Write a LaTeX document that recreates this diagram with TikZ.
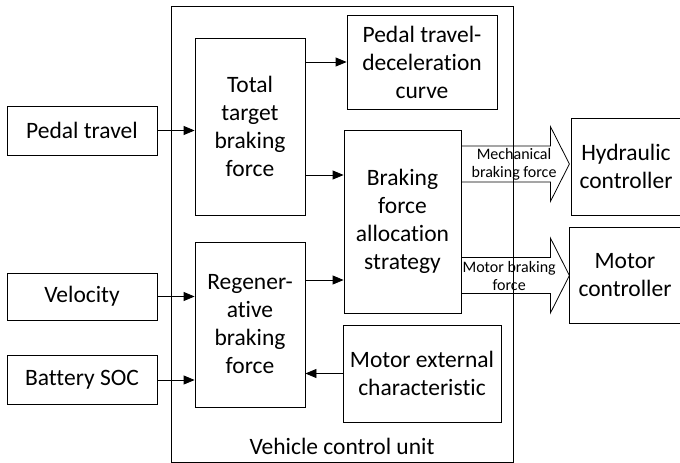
\documentclass[tikz,border=0pt]{standalone}
\usepackage{fontspec}
\setmainfont{Carlito}[Ligatures=NoCommon]
\usetikzlibrary{arrows.meta,positioning}

\tikzset{
  bloc/.style = {draw, line width=0.8pt, inner sep=0pt, align=center,
                 font=\fontsize{23.5}{28}\selectfont},
  fleche/.style = {-{Triangle[length=11pt,width=9pt]}, line width=0.8pt},
  grosse/.style = {line width=0.8pt, line join=miter},
  petit/.style = {align=center, inner sep=0pt, font=\fontsize{16}{18}\selectfont}
}

\begin{document}
\begin{tikzpicture}[x=1pt,y=-1pt]
\useasboundingbox (0,0) rectangle (680,463);
% les entrees
\node[bloc, minimum width=150, minimum height=49] (pedal)    at (82,130.5) {Pedal travel};
\node[bloc, minimum width=150, minimum height=47] (velocity) at (82,296.5) {Velocity};
\node[bloc, minimum width=150, minimum height=49] (battery)  at (82,380)   {Battery SOC};
% les blocs du VCU
\node[bloc, minimum width=110, minimum height=177] (total)    at (250,126.5) {Total\\target\\braking\\force};
\node[bloc, minimum width=110, minimum height=165] (regen)    at (250,324.5) {Regener-\\ative\\braking\\force};
\node[bloc, minimum width=150, minimum height=94]  (curve)    at (422,62)    {Pedal travel-\\deceleration\\curve};
\node[bloc, minimum width=117, minimum height=183] (alloc)    at (402.5,221.5) {Braking\\force\\allocation\\strategy};
\node[bloc, minimum width=158, minimum height=97]  (motorext) at (422,373.5) {Motor external\\characteristic};
% les sorties
\node[bloc, minimum width=110, minimum height=97] (hydr)   at (626,166.5) {Hydraulic\\controller};
\node[bloc, minimum width=112, minimum height=96] (motorc) at (625,275)   {Motor\\controller};
% les fleches
\draw[fleche] (pedal.east) -- (pedal.east -| total.west);
\draw[fleche] (velocity.east) -- (velocity.east -| regen.west);
\draw[fleche] (battery.east) -- (battery.east -| regen.west);
\draw[fleche] (curve.west -| total.east) -- (curve.west);
\draw[fleche] ([yshift=-48.5pt]total.east) -- ([yshift=-48.5pt]total.east -| alloc.west);
\draw[fleche] ([yshift=44.5pt]regen.east) -- ([yshift=44.5pt]regen.east -| alloc.west);
\draw[fleche] (motorext.west) -- (motorext.west -| regen.east);
% les grosses fleches
\coordinate (meca) at ([yshift=57.5pt]alloc.east);
\coordinate (mot)  at ([yshift=-54pt]alloc.east);
\draw[grosse] (meca) ++(0,-18) -- ++(89,0) -- ++(0,-19.5) -- ++(19,37.5)
  -- ++(-19,37.5) -- ++(0,-19.5) -- ++(-89,0);
\draw[grosse] (mot) ++(0,-18) -- ++(89,0) -- ++(0,-19.5) -- ++(19,37.5)
  -- ++(-19,37.5) -- ++(0,-19.5) -- ++(-89,0);
\node[petit, right=10pt of meca] (mecalbl) {Mechanical\\braking force};
\node[petit, right=1pt of mot] (motlbl) {Motor braking\\force};
% le VCU
\node[bloc, minimum width=342, minimum height=456] (vcu) at (342,234) {};
\node[above=8pt of vcu.south, font=\fontsize{23.5}{28}\selectfont, inner sep=0pt] (vculbl) {Vehicle control unit};
\end{tikzpicture}
\end{document}
